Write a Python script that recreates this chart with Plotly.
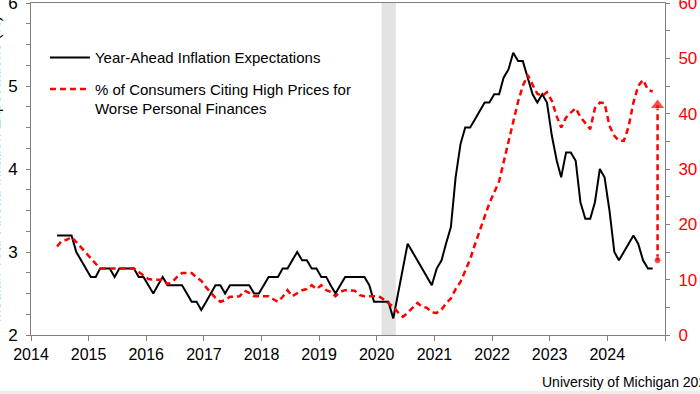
import plotly.graph_objects as go
import pandas as pd

# ---- data (monthly, Jun 2014 - Oct 2024) ----
n_months = 125
dates = pd.date_range("2014-06-01", periods=n_months, freq="MS") + pd.Timedelta(days=14)

inflation_expectations = [
    3.2, 3.2, 3.2, 3.2, 3.0, 2.9, 2.8,                              # 2014 Jun-Dec
    2.7, 2.7, 2.8, 2.8, 2.8, 2.7, 2.8, 2.8, 2.8, 2.8, 2.7, 2.7,     # 2015
    2.6, 2.5, 2.6, 2.7, 2.6, 2.6, 2.6, 2.6, 2.5, 2.4, 2.4, 2.3,     # 2016
    2.4, 2.5, 2.6, 2.6, 2.5, 2.6, 2.6, 2.6, 2.6, 2.6, 2.5, 2.5,     # 2017
    2.6, 2.7, 2.7, 2.7, 2.8, 2.8, 2.9, 3.0, 2.9, 2.9, 2.8, 2.8,     # 2018
    2.7, 2.7, 2.6, 2.5, 2.6, 2.7, 2.7, 2.7, 2.7, 2.7, 2.6, 2.4,     # 2019
    2.4, 2.4, 2.4, 2.2, 2.5, 2.8, 3.1, 3.0, 2.9, 2.8, 2.7, 2.6,     # 2020
    2.8, 2.9, 3.1, 3.3, 3.9, 4.3, 4.5, 4.5, 4.6, 4.7, 4.8, 4.8,     # 2021
    4.9, 4.9, 5.1, 5.2, 5.4, 5.3, 5.3, 5.1, 4.9, 4.8, 4.9, 4.8,     # 2022
    4.4, 4.1, 3.9, 4.2, 4.2, 4.1, 3.6, 3.4, 3.4, 3.6, 4.0, 3.9,     # 2023
    3.5, 3.0, 2.9, 3.0, 3.1, 3.2, 3.1, 2.9, 2.8, 2.8,               # 2024 Jan-Oct
]

pct_high_prices = [
    16.0, 17.0, 17.2, 17.7, 16.8, 15.8, 14.8,                              # 2014
    13.9, 13.0, 12.0, 12.0, 12.0, 12.0, 12.0, 12.0, 12.0, 12.0, 11.4, 10.7,  # 2015
    10.1, 10.0, 10.0, 10.0, 9.2, 9.6, 10.5, 11.2, 11.2, 11.2, 10.4, 9.8,     # 2016
    8.6, 7.6, 6.7, 6.0, 6.3, 6.9, 7.0, 7.0, 8.0, 7.6, 7.0, 7.0,              # 2017
    7.0, 7.0, 6.5, 6.0, 6.9, 8.1, 7.0, 7.6, 8.1, 8.3, 9.0, 8.3,              # 2018
    9.0, 8.1, 7.8, 7.0, 7.8, 8.1, 8.1, 8.0, 7.2, 7.0, 7.0, 7.0,              # 2019
    7.0, 6.4, 5.8, 5.1, 4.1, 3.3, 4.0, 5.0, 5.8, 5.1, 4.9, 4.1,              # 2020
    4.0, 4.6, 5.7, 6.6, 8.3, 9.6, 11.5, 13.7, 16.4, 19.0, 21.4, 23.8,        # 2021
    25.7, 27.8, 31.2, 35.0, 38.6, 42.2, 45.0, 47.0, 45.2, 43.6, 43.2, 43.9,  # 2022
    42.3, 39.5, 37.5, 39.3, 40.2, 41.0, 39.4, 38.2, 37.2, 41.0, 42.0, 41.9,  # 2023
    37.8, 36.0, 35.1, 35.1, 37.6, 42.0, 45.0, 46.1, 44.3, 44.0,              # 2024
]

year_ticks = [f"{y}-01-01" for y in range(2014, 2026)]
year_labels = [str(y) for y in range(2014, 2025)] + [""]
left_ticks = [2, 3, 4, 5, 6]
right_ticks = [0, 10, 20, 30, 40, 50, 60]

recession_start, recession_end = "2020-02-01", "2020-05-01"
arrow_date = "2024-11-15"
arrow_bottom, arrow_top = 13.5, 41.5

names = ["Year-Ahead Inflation Expectations",
         "% of Consumers Citing High Prices for<br>Worse Personal Finances"]
source_text = "University of Michigan 2024"
left_title = "Median Year-Ahead Inflation Expectations (%)"

FONT = "Liberation Sans, Arial, sans-serif"
RED = "#ff0000"
AXIS = "#808080"

fig = go.Figure()

fig.add_trace(go.Scatter(
    x=dates, y=inflation_expectations, name=names[0], mode="lines",
    line=dict(color="black", width=2), legendgroup="a", yaxis="y"))

fig.add_trace(go.Scatter(
    x=dates, y=pct_high_prices, name=names[1], mode="lines",
    line=dict(color=RED, width=2.5, dash="6px,4px"), legendgroup="b", yaxis="y2"))

# vertical gap arrow
fig.add_trace(go.Scatter(
    x=[arrow_date, arrow_date], y=[arrow_bottom, arrow_top], yaxis="y2",
    mode="lines+markers", showlegend=False,
    line=dict(color=RED, width=2.5, dash="6px,4px"),
    marker=dict(symbol=["circle", "triangle-up"], size=[7, 13], color=RED)))

fig.add_shape(type="rect", xref="x", yref="paper",
              x0=recession_start, x1=recession_end, y0=0, y1=1,
              fillcolor="#e3e3e3", line=dict(width=0), layer="below")

# bottom grey strip of the page
fig.add_shape(type="rect", xref="paper", yref="paper",
              x0=-0.1, x1=1.1, y0=-0.168, y1=-0.25,
              fillcolor="#ececec", line=dict(width=0))

fig.add_annotation(text=source_text, xref="paper", yref="paper",
                   x=0.803, y=-0.1416, xanchor="left", yanchor="middle",
                   showarrow=False, font=dict(family=FONT, size=14, color="black"))

fig.add_annotation(text=left_title, xref="paper", yref="paper",
                   x=-0.058, y=0.5, xanchor="center", yanchor="middle",
                   textangle=-90, showarrow=False,
                   font=dict(family=FONT, size=15, color="black"))

fig.update_layout(
    width=700, height=394,
    margin=dict(l=31, r=35, t=3, b=59, autoexpand=False),
    paper_bgcolor="white", plot_bgcolor="white",
    font=dict(family=FONT, size=16, color="black"),
    showlegend=True,
    legend=dict(x=0.022, y=0.885, xanchor="left", yanchor="top",
                font=dict(family=FONT, size=15, color="black"),
                bgcolor="rgba(0,0,0,0)", valign="top",
                tracegroupgap=9, itemwidth=40),
    xaxis=dict(type="date", range=["2014-01-01", "2025-01-01"],
               tickmode="array", tickvals=year_ticks, ticktext=year_labels,
               ticks="outside", ticklen=5, tickcolor=AXIS,
               showline=True, linecolor=AXIS, linewidth=1, mirror=True,
               showgrid=False, zeroline=False, ticklabeloverflow="allow",
               tickfont=dict(family=FONT, size=16, color="black")),
    yaxis=dict(range=[2, 6], tickmode="array", tickvals=left_ticks,
               ticks="outside", ticklen=4, tickcolor=AXIS,
               showline=True, linecolor=AXIS, linewidth=1,
               showgrid=False, zeroline=False, ticklabeloverflow="allow",
               ticklabelstandoff=5,
               minor=dict(dtick=0.25, ticks="outside", ticklen=4, tickcolor=AXIS),
               tickfont=dict(family=FONT, size=17, color="black")),
    yaxis2=dict(range=[0, 60], tickmode="array", tickvals=right_ticks,
                overlaying="y", side="right",
                ticks="outside", ticklen=4, tickcolor=AXIS,
                showline=True, linecolor=AXIS, linewidth=1,
                showgrid=False, zeroline=False, ticklabeloverflow="allow",
                ticklabelstandoff=5,
                minor=dict(dtick=5, ticks="outside", ticklen=4, tickcolor=AXIS),
                tickfont=dict(family=FONT, size=17, color=RED)),
)

fig.write_html("out.html", config={"displayModeBar": False},
               post_script="document.body.style.margin='0';document.body.style.padding='0';")
